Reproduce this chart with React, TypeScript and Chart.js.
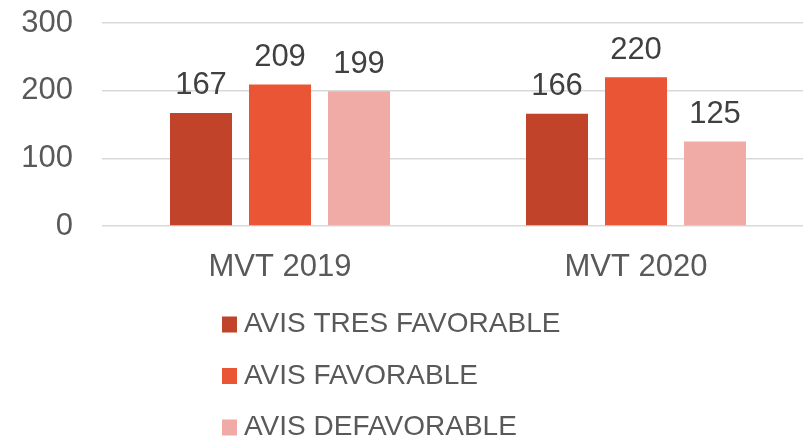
import React, { useEffect, useRef } from "react";
import { Chart, registerables } from "chart.js";

Chart.register(...registerables);

const categories = ["MVT 2019", "MVT 2020"];
const seriesNames = ["AVIS TRES FAVORABLE", "AVIS FAVORABLE", "AVIS DEFAVORABLE"];
const tresFavorable = [167, 166];
const favorable = [209, 220];
const defavorable = [199, 125];
const seriesColors = ["#C0432A", "#E95535", "#F1ABA6"];
const yMin = 0;
const yMax = 300;
const yStep = 100;

const FONT = '"Liberation Sans", Arial, sans-serif';

const valueLabelPlugin = {
  id: "valueLabels",
  afterDatasetsDraw(chart: any) {
    const ctx = chart.ctx;
    ctx.save();
    ctx.font = `31px ${FONT}`;
    ctx.fillStyle = "#404040";
    ctx.textAlign = "center";
    ctx.textBaseline = "alphabetic";
    chart.data.datasets.forEach((ds: any, i: number) => {
      const meta = chart.getDatasetMeta(i);
      meta.data.forEach((el: any, j: number) => {
        ctx.fillText(String(ds.data[j]), el.x, el.y - 18.5);
      });
    });
    ctx.restore();
  },
};

const bottomLegendPlugin = {
  id: "bottomLegend",
  afterDraw(chart: any) {
    const ctx = chart.ctx;
    const area = chart.chartArea;
    ctx.save();
    ctx.font = `28px ${FONT}`;
    ctx.textAlign = "left";
    ctx.textBaseline = "middle";
    const x0 = 222;
    const firstRow = area.bottom + 98.5;
    const rowGap = 51.5;
    chart.data.datasets.forEach((ds: any, i: number) => {
      const yc = firstRow + i * rowGap;
      ctx.fillStyle = ds.backgroundColor;
      ctx.fillRect(x0, yc - 8, 15, 16);
      ctx.fillStyle = "#595959";
      ctx.fillText(ds.label, x0 + 22, yc);
    });
    ctx.restore();
  },
};

export default function App() {
  const canvasRef = useRef<HTMLCanvasElement | null>(null);

  useEffect(() => {
    if (!canvasRef.current) return;
    const seriesValues = [tresFavorable, favorable, defavorable];
    const chart = new Chart(canvasRef.current, {
      type: "bar",
      data: {
        labels: categories,
        datasets: seriesNames.map((name, i) => ({
          label: name,
          data: seriesValues[i],
          backgroundColor: seriesColors[i],
          borderWidth: 0,
          categoryPercentage: 0.6657,
          barPercentage: 0.785,
        })),
      },
      options: {
        responsive: false,
        animation: false,
        devicePixelRatio: 1,
        layout: { padding: { top: 23, left: 0, right: 0, bottom: 0 } },
        plugins: {
          legend: { display: false },
          tooltip: { enabled: false },
        },
        scales: {
          x: {
            grid: { display: false, drawTicks: false },
            border: { display: false },
            ticks: {
              color: "#595959",
              font: { family: FONT, size: 31 },
              padding: 23,
            },
            afterFit(scale: any) {
              scale.height = 213;
            },
          },
          y: {
            min: yMin,
            max: yMax,
            grid: { color: "#D9D9D9", lineWidth: 1.5, drawTicks: false },
            border: { display: false },
            ticks: {
              stepSize: yStep,
              color: "#595959",
              font: { family: FONT, size: 31 },
              padding: 29,
            },
            afterFit(scale: any) {
              scale.width = 102;
              scale.paddingTop = 0;
              scale.paddingBottom = 0;
            },
          },
        },
      },
      plugins: [valueLabelPlugin, bottomLegendPlugin],
    });
    return () => chart.destroy();
  }, []);

  return (
    <div
      style={{
        position: "absolute",
        left: 0,
        top: 0,
        width: 803,
        height: 439,
        overflow: "hidden",
        background: "#FFFFFF",
      }}
    >
      <canvas ref={canvasRef} width={814} height={439} style={{ display: "block" }} />
    </div>
  );
}
